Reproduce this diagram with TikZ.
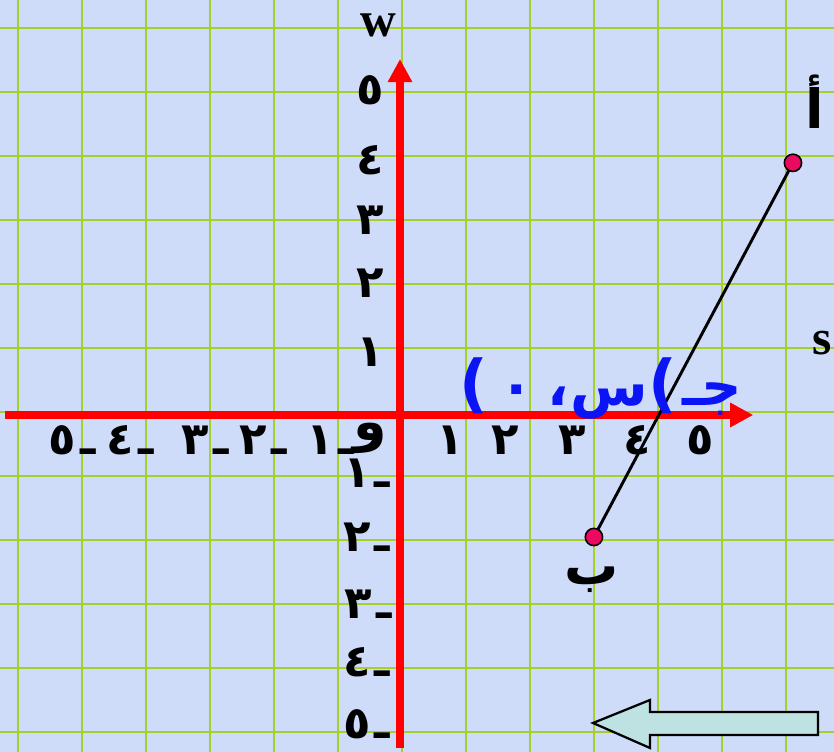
\documentclass[tikz,border=0pt]{standalone}
\usepackage{fontspec}
\usetikzlibrary{arrows.meta}
\TeXXeTstate=1
\newfontfamily\arabicfont[Script=Arabic]{DejaVu Sans}
\newfontfamily\plainsans{DejaVu Sans}
\newfontfamily\latinfont{Liberation Serif}
\definecolor{bgblue}{RGB}{206,220,249}
\definecolor{gridgreen}{RGB}{166,208,40}
\definecolor{dotred}{RGB}{235,10,95}
\definecolor{arrowfill}{RGB}{190,225,226}
\definecolor{labelblue}{RGB}{10,20,245}
\tikzset{
  gridline/.style ={draw=gridgreen, line width=0.9pt},
  axis/.style     ={draw=red, line width=0.125cm,
                    -{Triangle[length=0.36cm,width=0.36cm]}},
  seg/.style      ={draw=black, line width=1.3pt},
  dot/.style      ={circle, draw=black, line width=0.7pt, fill=dotred,
                    minimum size=0.27cm, inner sep=0pt},
  num/.style      ={font=\arabicfont\bfseries\fontsize{20}{24}\selectfont, inner sep=0pt},
  lbl/.style      ={font=\arabicfont\bfseries\fontsize{24}{28}\selectfont, inner sep=0pt},
  ltr/.style      ={font=\latinfont\bfseries\fontsize{22}{26}\selectfont, inner sep=0pt},
  coordlbl/.style ={font=\arabicfont\bfseries\fontsize{25}{30}\selectfont,
                    text=labelblue, inner sep=0pt},
  bigarrow/.style ={draw=black, line width=1pt, fill=arrowfill, line join=miter},
}
\newcommand{\negnum}[1]{#1\kern2pt ـ}
\newcommand{\lparen}{{\plainsans\bfseries\fontsize{28}{32}\selectfont (}}

\begin{document}
\begin{tikzpicture}[x=1cm,y=1cm]

\useasboundingbox (-6.25,-5.265625) rectangle (6.78125,6.484375);
\fill[bgblue] (-6.25,-5.265625) rectangle (6.78125,6.484375);
\draw[gridline, shift={(0.03,0.047)}] (-6.28,-5.31) grid (6.75,6.43);

% axes
\coordinate (xl) at (-6.17,0);
\coordinate (xr) at (5.52,0);
\coordinate (yb) at (0,-5.2);
\coordinate (yt) at (0,5.5625);
\draw[axis] (xl) -- (xr);
\draw[axis] (yb) -- (yt);

% axis numbers
\node[num] (x1) at (0.78,-0.39) {١};
\node[num] (x2) at (1.64,-0.39) {٢};
\node[num] (x3) at (2.69,-0.39) {٣};
\node[num] (x4) at (3.70,-0.39) {٤};
\node[num] (x5) at (4.69,-0.39) {٥};
\node[num] (xm1) at (-1.09,-0.39) {\negnum{١}};
\node[num] (xm2) at (-2.14,-0.39) {\negnum{٢}};
\node[num] (xm3) at (-3.05,-0.39) {\negnum{٣}};
\node[num] (xm4) at (-4.22,-0.39) {\negnum{٤}};
\node[num] (xm5) at (-5.125,-0.39) {\negnum{٥}};
\node[num] (y1) at (-0.47,0.98) {١};
\node[num] (y2) at (-0.47,2.06) {٢};
\node[num] (y3) at (-0.47,3.05) {٣};
\node[num] (y4) at (-0.47,3.98) {٤};
\node[num] (y5) at (-0.47,5.08) {٥};
\node[num] (ym1) at (-0.52,-0.91) {\negnum{١}};
\node[num] (ym2) at (-0.52,-1.91) {\negnum{٢}};
\node[num] (ym3) at (-0.50,-2.95) {\negnum{٣}};
\node[num] (ym4) at (-0.52,-3.86) {\negnum{٤}};
\node[num] (ym5) at (-0.52,-4.84) {\negnum{٥}};
\node[lbl] (orig) at (-0.47,-0.36) {و};

\node[ltr] (wlbl) at (-0.34,6.08) {w};
\node[ltr] (slbl) at (6.59,1.125) {s};

% segment
\coordinate (A) at (6.14,3.94);
\coordinate (B) at (3.03,-1.906);
\draw[seg] (B) -- (A);
\node[dot] (pA) at (A) {};
\node[dot] (pB) at (B) {};
\node[lbl] (lA) at (6.48,4.89) {أ};
\node[lbl] (lB) at (3.0,-2.58) {ب};

\node[coordlbl] (lC) at (3.14,0.42)
  {\lparen\hspace{5pt}٠\hspace{6pt}،\kern0.5pt س\kern0.5pt \lparen\hspace{2pt}جـ};

% block arrow
\draw[bigarrow] (3.016,-4.8125) -- (3.906,-4.453) -- (3.906,-4.64) -- (6.53,-4.64)
  -- (6.53,-5.0) -- (3.906,-5.0) -- (3.906,-5.203) -- cycle;

\end{tikzpicture}
\end{document}
